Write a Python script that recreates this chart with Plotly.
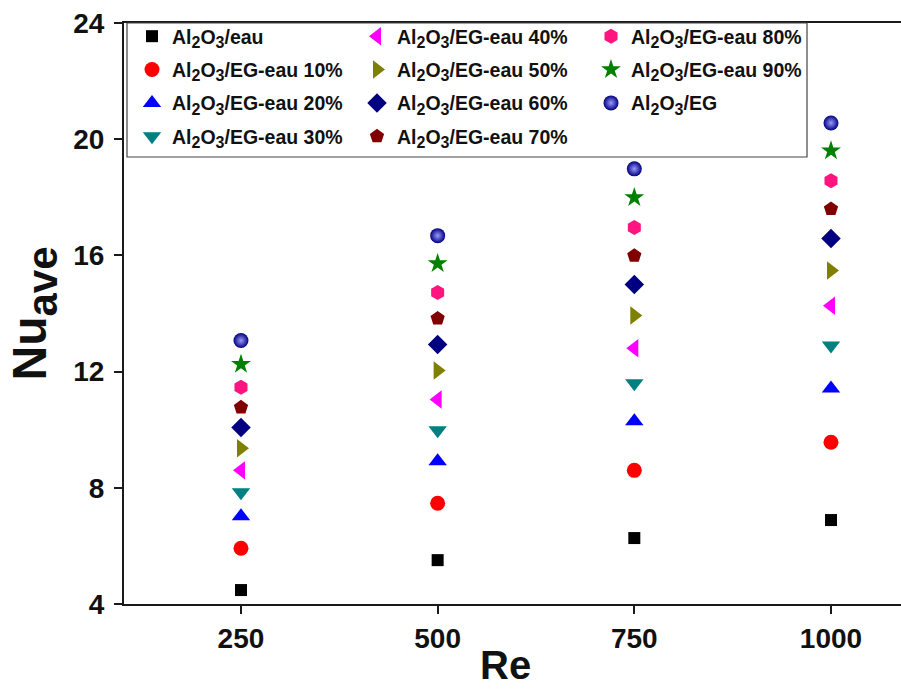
import plotly.graph_objects as go

# Reynolds numbers (x) and average Nusselt numbers for each coolant
re_values = [250, 500, 750, 1000]

nu_eau = [4.48, 5.51, 6.27, 6.89]
nu_eg10 = [5.92, 7.47, 8.60, 9.57]
nu_eg20 = [7.02, 8.91, 10.29, 11.42]
nu_eg30 = [7.85, 9.98, 11.60, 12.90]
nu_eg40 = [8.60, 11.04, 12.80, 14.27]
nu_eg50 = [9.36, 12.04, 13.93, 15.48]
nu_eg60 = [10.08, 12.93, 15.00, 16.58]
nu_eg70 = [10.77, 13.83, 15.99, 17.60]
nu_eg80 = [11.46, 14.72, 16.96, 18.57]
nu_eg90 = [12.25, 15.72, 17.99, 19.60]
nu_eg = [13.07, 16.68, 18.98, 20.56]


def sub(t, size=16):
    return f"<sub><span style='font-size:{size}px'>{t}</span></sub>"


AL = "Al" + sub("2") + "O" + sub("3")
series = [
    (AL + "/eau", nu_eau, "square", "#000000", 12, "legend"),
    (AL + "/EG-eau 10%", nu_eg10, "circle", "#ff0000", 15, "legend"),
    (AL + "/EG-eau 20%", nu_eg20, "triangle-up", "#0000ff", 16, "legend"),
    (AL + "/EG-eau 30%", nu_eg30, "triangle-down", "#008080", 16, "legend"),
    (AL + "/EG-eau 40%", nu_eg40, "triangle-left", "#ff00ff", 16, "legend2"),
    (AL + "/EG-eau 50%", nu_eg50, "triangle-right", "#808000", 16, "legend2"),
    (AL + "/EG-eau 60%", nu_eg60, "diamond", "#000080", 15, "legend2"),
    (AL + "/EG-eau 70%", nu_eg70, "pentagon", "#800000", 15, "legend2"),
    (AL + "/EG-eau 80%", nu_eg80, "hexagon", "#ff1480", 15, "legend3"),
    (AL + "/EG-eau 90%", nu_eg90, "star", "#008000", 15, "legend3"),
    (AL + "/EG", nu_eg, "circle", "#00007e", 15, "legend3"),
]

fig = go.Figure()
for i, (name, vals, sym, col, size, leg) in enumerate(series):
    marker = dict(symbol=sym, color=col, size=size, line=dict(width=0))
    if i == len(series) - 1:
        # shaded sphere look
        marker["gradient"] = dict(type="radial", color="#9a9aff")
    fig.add_trace(go.Scatter(
        x=re_values, y=vals, mode="markers", name=f"<b>{name}</b>",
        marker=marker, legend=leg, legendgroup=f"g{i}",
    ))

W, H = 901, 690
ML, MR, MT, MB = 124, 0, 23, 86
pw, ph = W - ML - MR, H - MT - MB


def px_x(p):
    return (p - ML) / pw


def px_y(p):
    return (H - MB - p) / ph


legend_font = dict(family="Liberation Sans", size=19.5, color="#111111")
leg_common = dict(
    font=legend_font, bgcolor="rgba(0,0,0,0)", borderwidth=0,
    xanchor="left", yanchor="top", orientation="v", tracegroupgap=5,
    itemclick=False,
)

tick_font = dict(family="Liberation Sans", size=28, color="#111111")

fig.update_layout(
    width=W, height=H,
    margin=dict(l=ML, r=MR, t=MT, b=MB),
    paper_bgcolor="white", plot_bgcolor="white",
    font=dict(family="Liberation Sans", color="#111111"),
    legend=dict(x=px_x(132), y=px_y(17), **leg_common),
    legend2=dict(x=px_x(357), y=px_y(17), **leg_common),
    legend3=dict(x=px_x(591), y=px_y(17), **leg_common),
    xaxis=dict(
        range=[101.3, 1089], tickvals=re_values,
        ticktext=[f"<b>{v}</b>" for v in re_values],
        showline=True, linecolor="#1a1a1a", linewidth=2, mirror=True,
        ticks="outside", ticklen=8, tickwidth=2, tickcolor="#1a1a1a",
        tickfont=tick_font, showgrid=False, zeroline=False,
    ),
    yaxis=dict(
        range=[4, 24], tickvals=[4, 8, 12, 16, 20, 24],
        ticktext=[f"<b>{v}</b>" for v in [4, 8, 12, 16, 20, 24]],
        showline=True, linecolor="#1a1a1a", linewidth=2, mirror=False,
        ticks="outside", ticklen=8, tickwidth=2, tickcolor="#1a1a1a",
        tickfont=tick_font, ticklabelstandoff=4,
        showgrid=False, zeroline=False,
        title=dict(text="<b>Nu" + sub("ave", 42) + "</b>",
                   font=dict(size=48), standoff=11),
    ),
    annotations=[dict(
        text="<b>Re</b>", xref="paper", yref="paper",
        x=px_x(505), y=px_y(665), xanchor="center", yanchor="middle",
        showarrow=False, font=dict(family="Liberation Sans", size=40, color="#111111"),
    )],
    shapes=[dict(
        type="rect", xref="paper", yref="paper",
        x0=px_x(127), x1=px_x(807), y0=px_y(157), y1=px_y(23),
        line=dict(color="#444444", width=1.2), fillcolor="rgba(0,0,0,0)",
        layer="above",
    )],
)

fig.write_html("out.html")
